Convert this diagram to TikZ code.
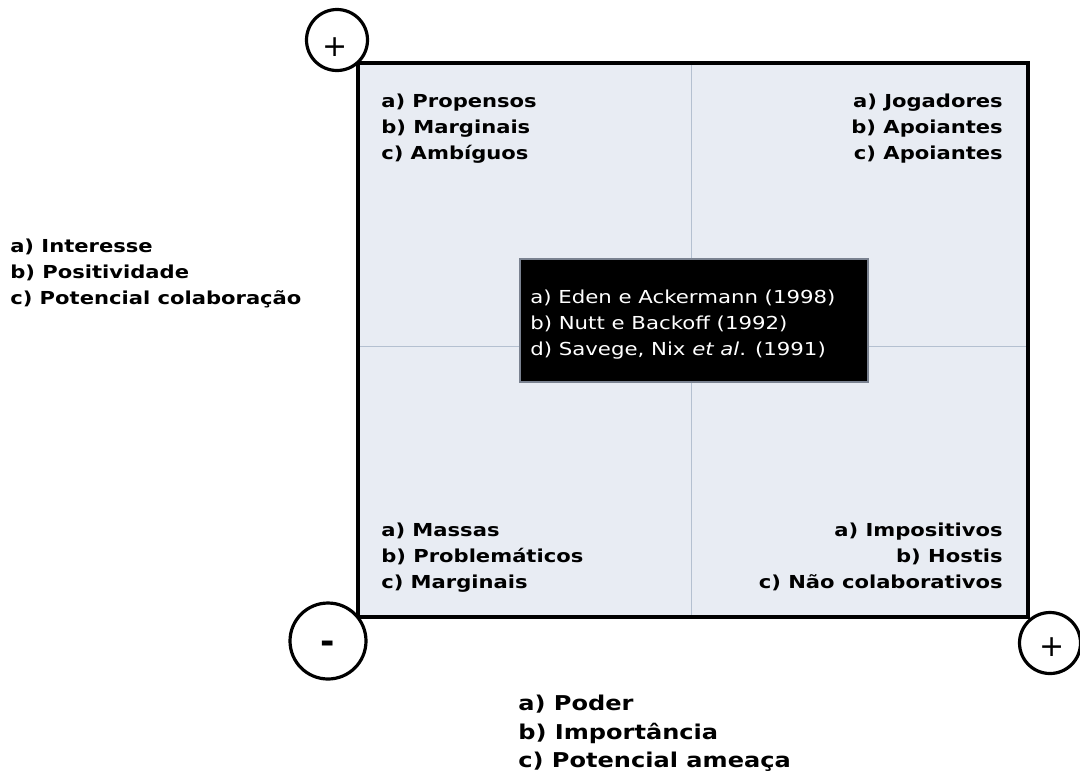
\documentclass[tikz,border=0pt]{standalone}
\usepackage{fontspec}
\setmainfont{DejaVu Sans}[FakeStretch=1.19]
\newfontfamily\labelfont{DejaVu Sans}[FakeStretch=1.18]
\newfontfamily\signfont{DejaVu Sans}
\definecolor{quadfill}{HTML}{E8ECF3}
\definecolor{divider}{HTML}{B4C0D0}
\definecolor{boxedge}{HTML}{7A8290}
\tikzset{
  quad/.style={font=\labelfont\bfseries\fontsize{13.4}{19.5}\selectfont, inner sep=0pt},
  axislabel/.style={font=\labelfont\bfseries\fontsize{13.4}{19.5}\selectfont, inner sep=0pt, align=left, anchor=north west},
  biglabel/.style={font=\labelfont\bfseries\fontsize{15.3}{21.4}\selectfont, inner sep=0pt, align=left, anchor=north west},
  sign/.style={circle, draw=black, line width=2.4pt, fill=white, minimum size=#1, inner sep=0pt},
  signtext/.style={inner sep=0pt, anchor=base},
}
\begin{document}
\begin{tikzpicture}[x=0.75pt, y=-0.75pt]
\useasboundingbox (0,0) rectangle (1080,772);
% grid frame
\coordinate (tl) at (358,63);
\coordinate (br) at (1028,617);
\fill[quadfill] (tl) rectangle (br);
\coordinate (vt) at (691,63);
\coordinate (vb) at (691,617);
\coordinate (hl) at (358,346);
\coordinate (hr) at (1028,346);
\draw[divider, line width=0.6pt] (vt) -- (vb);
\draw[divider, line width=0.6pt] (hl) -- (hr);
\draw[line width=2.4pt] (tl) rectangle (br);
% quadrant contents
\node[quad, align=left, anchor=north west] (q1) at (381,94) {a) Propensos\\b) Marginais\\c) Ambíguos};
\node[quad, align=right, anchor=north east] (q2) at (1003,94) {a) Jogadores\\b) Apoiantes\\c) Apoiantes};
\node[quad, align=left, anchor=north west] (q3) at (381,523) {a) Massas\\b) Problemáticos\\c) Marginais};
\node[quad, align=right, anchor=north east] (q4) at (1003,523) {a) Impositivos\\b) Hostis\\c) Não colaborativos};
% centre references
\node[fill=black, draw=boxedge, line width=0.8pt, minimum width=348*0.75pt, minimum height=123*0.75pt, inner sep=0pt] (refs) at (694,320.5) {};
\node[text=white, font=\fontsize{13.4}{19.5}\selectfont, align=left, anchor=north west, inner sep=0pt] (reftext) at (530,290) {a) Eden e Ackermann (1998)\\b) Nutt e Backoff (1992)\\d) Savege, Nix \textit{et al}. (1991)};
% axis labels
\node[axislabel] (ylab) at (10,239) {a) Interesse\\b) Positividade\\c) Potencial colaboração};
\node[biglabel] (xlab) at (518,695) {a) Poder\\b) Importância\\c) Potencial ameaça};
% signs on the corners
\node[sign=61*0.75pt] (plusy) at (337,40) {};
\node[sign=76*0.75pt] (minus) at (328,641) {};
\node[sign=61*0.75pt] (plusx) at (1050,643) {};
\node[signtext, font=\signfont\fontsize{22.5}{22.5}\selectfont] (plusytext) at (335,56) {+};
\node[signtext, font=\signfont\bfseries\fontsize{26}{26}\selectfont] (minustext) at (328,653) {-};
\node[signtext, font=\signfont\fontsize{22.5}{22.5}\selectfont] (plusxtext) at (1052,656) {+};
\end{tikzpicture}
\end{document}
